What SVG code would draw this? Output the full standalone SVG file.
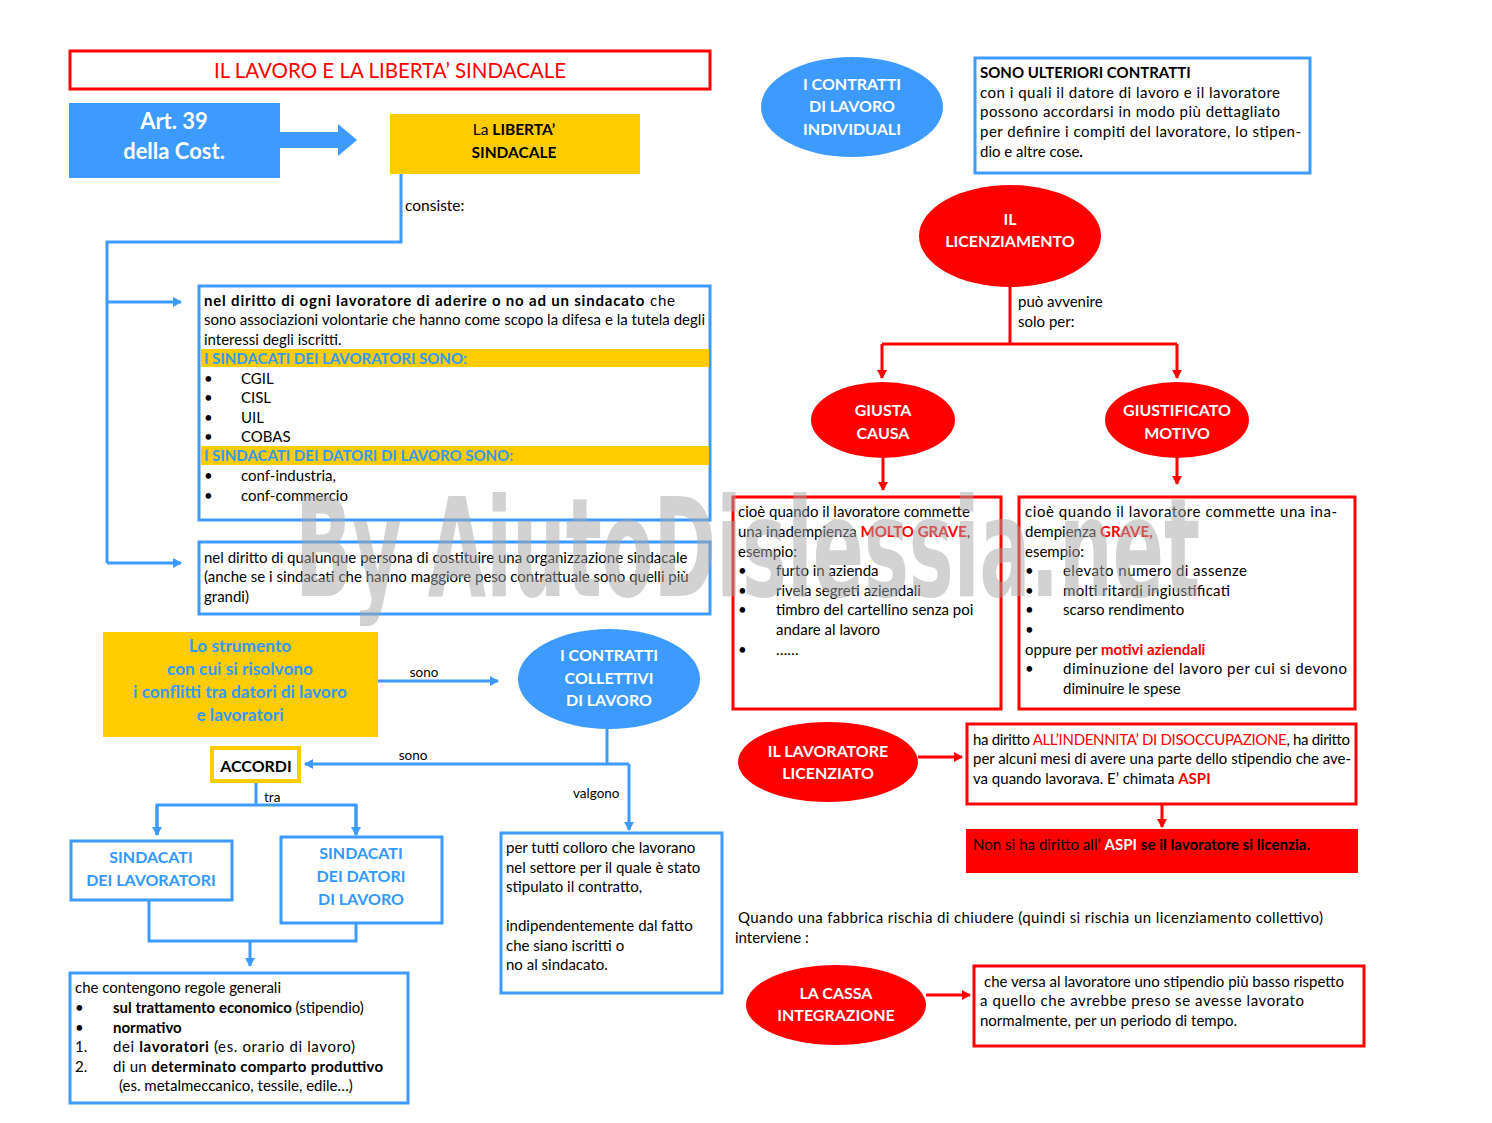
<svg xmlns="http://www.w3.org/2000/svg" width="1492" height="1123" viewBox="0 0 1492 1123">
<style>
text{font-family:Lato,"Liberation Sans",sans-serif;}
.t{font-size:15px;fill:#000;}
.b{font-weight:bold;}
.w{fill:#fff;font-weight:bold;font-size:16px;text-anchor:middle;}
.bl{fill:#3399ff;font-weight:bold;font-size:16px;text-anchor:middle;}
.r{fill:#ff0000;}
.bbox{fill:#fff;stroke:#3d9bff;stroke-width:3;}
.rbox{fill:#fff;stroke:#ff0000;stroke-width:3;}
.bl-line{fill:none;stroke:#3d9bff;stroke-width:3;}
.rd-line{fill:none;stroke:#ff0000;stroke-width:3;}
.bfill{fill:#3d9bff;}
.rfill{fill:#ff0000;}
.yfill{fill:#ffcc00;}
</style>
<defs>
<marker id="ab" markerWidth="10" markerHeight="10" refX="8" refY="5" orient="auto" markerUnits="userSpaceOnUse"><path d="M0,0 L9,5 L0,10 z" fill="#3d9bff"/></marker>
<marker id="ar" markerWidth="10" markerHeight="10" refX="8" refY="5" orient="auto" markerUnits="userSpaceOnUse"><path d="M0,0 L9,5 L0,10 z" fill="#ff0000"/></marker>
</defs>
<rect width="1492" height="1123" fill="#fff"/>

<g id="connectors">
<polygon points="280,132 338,132 338,124 357,140 338,156 338,148 280,148" fill="#3d9bff"/>
<polyline class="bl-line" points="401,174 401,242 107,242 107,563"/>
<line class="bl-line" x1="107" y1="302" x2="181" y2="302" marker-end="url(#ab)"/>
<line class="bl-line" x1="107" y1="563" x2="181" y2="563" marker-end="url(#ab)"/>
<line class="bl-line" x1="367" y1="681" x2="498" y2="681" marker-end="url(#ab)"/>
<polyline class="bl-line" points="607,728 607,764"/>
<line class="bl-line" x1="629" y1="764" x2="305" y2="764" marker-end="url(#ab)"/>
<line class="bl-line" x1="629" y1="764" x2="629" y2="830" marker-end="url(#ab)"/>
<polyline class="bl-line" points="256,781 256,805"/>
<polyline class="bl-line" points="157,835 157,805 356,805 356,835"/>
<line class="bl-line" x1="157" y1="805" x2="157" y2="835" marker-end="url(#ab)"/>
<line class="bl-line" x1="356" y1="805" x2="356" y2="835" marker-end="url(#ab)"/>
<polyline class="bl-line" points="149,900 149,941 356,941 356,923"/>
<line class="bl-line" x1="250" y1="941" x2="250" y2="966" marker-end="url(#ab)"/>
<text class="t" x="405" y="211" style="font-size:15.5px">consiste:</text>
<text class="t" x="424" y="677" text-anchor="middle" style="font-size:13.5px">sono</text>
<text class="t" x="413" y="760" text-anchor="middle" style="font-size:13.5px">sono</text>
<text class="t" x="264" y="802" style="font-size:13.5px">tra</text>
<text class="t" x="573" y="798" style="font-size:13.5px">valgono</text>

<polyline class="rd-line" points="1010,287 1010,344"/>
<polyline class="rd-line" points="882,344 1177,344"/>
<line class="rd-line" x1="882" y1="344" x2="882" y2="378" marker-end="url(#ar)"/>
<line class="rd-line" x1="1177" y1="344" x2="1177" y2="378" marker-end="url(#ar)"/>
<line class="rd-line" x1="883" y1="458" x2="883" y2="490" marker-end="url(#ar)"/>
<line class="rd-line" x1="1177" y1="458" x2="1177" y2="484" marker-end="url(#ar)"/>
<line class="rd-line" x1="918" y1="757" x2="962" y2="757" marker-end="url(#ar)"/>
<line class="rd-line" x1="1162" y1="804" x2="1162" y2="827" marker-end="url(#ar)"/>
<line class="rd-line" x1="926" y1="995" x2="970" y2="995" marker-end="url(#ar)"/>
<text class="t" x="1018" y="307">può avvenire</text>
<text class="t" x="1018" y="327">solo per:</text>
</g>

<g id="title">
<rect x="70" y="51" width="640" height="38" fill="#fff" stroke="#ff0000" stroke-width="3"/>
<text x="390" y="78" text-anchor="middle" style="font-size:20.5px;fill:#ff0000">IL LAVORO E LA LIBERTA’ SINDACALE</text>
</g>

<g id="art39">
<rect x="69" y="103" width="211" height="75" class="bfill"/>
<text class="w" x="174" y="129" style="font-size:22px">Art. 39</text>
<text class="w" x="174" y="159" style="font-size:22px">della Cost.</text>
</g>

<g id="liberta">
<rect x="390" y="114" width="250" height="60" class="yfill"/>
<text class="t" x="514" y="135" text-anchor="middle" style="font-size:15.5px">La <tspan class="b">LIBERTA’</tspan></text>
<text class="t b" x="514" y="158" text-anchor="middle" style="font-size:15.5px">SINDACALE</text>
</g>

<g id="diritto1">
<rect x="199" y="286" width="511" height="234" class="bbox"/>
<rect x="201" y="349" width="508" height="18" class="yfill"/>
<rect x="201" y="446" width="508" height="19" class="yfill"/>
<text class="t" x="204" y="306" textLength="471" lengthAdjust="spacing"><tspan class="b">nel diritto di ogni lavoratore di aderire o no ad un sindacato</tspan>  che</text>
<text class="t" x="204" y="325" textLength="501" lengthAdjust="spacing">sono associazioni volontarie che hanno  come scopo la difesa e la tutela degli</text>
<text class="t" x="204" y="345">interessi degli iscritti.</text>
<text class="t b" x="204" y="364" style="fill:#3399ff">I SINDACATI DEI LAVORATORI SONO:</text>
<text class="t" x="204" y="384">•</text><text class="t" x="241" y="384">CGIL</text>
<text class="t" x="204" y="403">•</text><text class="t" x="241" y="403">CISL</text>
<text class="t" x="204" y="423">•</text><text class="t" x="241" y="423">UIL</text>
<text class="t" x="204" y="442">•</text><text class="t" x="241" y="442">COBAS</text>
<text class="t b" x="204" y="461" style="fill:#3399ff">I SINDACATI DEI DATORI DI LAVORO SONO:</text>
<text class="t" x="204" y="481">•</text><text class="t" x="241" y="481">conf-industria,</text>
<text class="t" x="204" y="501">•</text><text class="t" x="241" y="501">conf-commercio</text>
</g>

<g id="diritto2">
<rect x="199" y="542" width="511" height="72" class="bbox"/>
<text class="t" x="204" y="563">nel diritto di qualunque persona di costituire una organizzazione sindacale</text>
<text class="t" x="204" y="582">(anche se i sindacati che hanno maggiore peso contrattuale sono quelli più</text>
<text class="t" x="204" y="602">grandi)</text>
</g>

<g id="strumento">
<rect x="103" y="632" width="275" height="105" class="yfill"/>
<text class="bl" x="240" y="652" style="font-size:17.3px">Lo strumento</text>
<text class="bl" x="240" y="675" style="font-size:17.3px">con cui si risolvono</text>
<text class="bl" x="240" y="698" style="font-size:17.3px">i conflitti tra datori di lavoro</text>
<text class="bl" x="240" y="721" style="font-size:17.3px">e lavoratori</text>
</g>

<g id="collettivi">
<ellipse cx="609" cy="679" rx="91" ry="50" class="bfill"/>
<text class="w" x="609" y="661">I  CONTRATTI</text>
<text class="w" x="609" y="684">COLLETTIVI</text>
<text class="w" x="609" y="706">DI LAVORO</text>
</g>

<g id="accordi">
<rect x="212" y="748" width="87" height="33" fill="#fff" stroke="#ffcc00" stroke-width="4"/>
<text class="t b" x="256" y="772" text-anchor="middle" style="font-size:16px">ACCORDI</text>
</g>

<g id="sind-lav">
<rect x="71" y="841" width="161" height="59" class="bbox"/>
<text class="bl" x="151" y="863">SINDACATI</text>
<text class="bl" x="151" y="886">DEI LAVORATORI</text>
</g>

<g id="sind-dat">
<rect x="281" y="837" width="161" height="86" class="bbox"/>
<text class="bl" x="361" y="859">SINDACATI</text>
<text class="bl" x="361" y="882">DEI DATORI</text>
<text class="bl" x="361" y="905">DI LAVORO</text>
</g>

<g id="regole">
<rect x="70" y="973" width="338" height="130" class="bbox"/>
<text class="t" x="75" y="993">che contengono regole generali</text>
<text class="t" x="75" y="1013">•</text><text class="t" x="113" y="1013"><tspan class="b">sul trattamento economico</tspan> (stipendio)</text>
<text class="t" x="75" y="1033">•</text><text class="t b" x="113" y="1033">normativo</text>
<text class="t" x="75" y="1052">1.</text><text class="t" x="113" y="1052" textLength="242" lengthAdjust="spacing">dei  <tspan class="b">lavoratori</tspan>  (es.  orario  di  lavoro)</text>
<text class="t" x="75" y="1072">2.</text><text class="t" x="113" y="1072" textLength="270" lengthAdjust="spacing">di  un  <tspan class="b">determinato comparto produttivo</tspan></text>
<text class="t" x="119" y="1091">(es. metalmeccanico, tessile, edile…)</text>
</g>

<g id="valgono-box">
<rect x="501" y="833" width="221" height="160" class="bbox"/>
<text class="t" x="506" y="853">per tutti colloro che lavorano</text>
<text class="t" x="506" y="873">nel settore per il quale è stato</text>
<text class="t" x="506" y="892">stipulato il contratto,</text>
<text class="t" x="506" y="931">indipendentemente dal fatto</text>
<text class="t" x="506" y="951">che siano iscritti o</text>
<text class="t" x="506" y="970">no al sindacato.</text>
</g>

<g id="individuali">
<ellipse cx="852" cy="107" rx="91" ry="50" class="bfill"/>
<text class="w" x="852" y="90">I  CONTRATTI</text>
<text class="w" x="852" y="112">DI LAVORO</text>
<text class="w" x="852" y="135">INDIVIDUALI</text>
</g>

<g id="ulteriori">
<rect x="975" y="58" width="335" height="115" class="bbox"/>
<text class="t b" x="980" y="78">SONO ULTERIORI CONTRATTI</text>
<text class="t" x="980" y="98" textLength="300" lengthAdjust="spacing">con i quali il  datore  di  lavoro  e  il  lavoratore</text>
<text class="t" x="980" y="117" textLength="300" lengthAdjust="spacing">possono  accordarsi  in  modo  più  dettagliato</text>
<text class="t" x="980" y="137" textLength="321" lengthAdjust="spacing">per  definire  i  compiti  del  lavoratore,  lo stipen-</text>
<text class="t" x="980" y="157">dio e altre cose<tspan class="b">.</tspan></text>
</g>

<g id="licenziamento">
<ellipse cx="1010" cy="236" rx="91" ry="51" class="rfill"/>
<text class="w" x="1010" y="225">IL</text>
<text class="w" x="1010" y="247">LICENZIAMENTO</text>
</g>

<g id="giusta">
<ellipse cx="883" cy="420" rx="72" ry="38" class="rfill"/>
<text class="w" x="883" y="416">GIUSTA</text>
<text class="w" x="883" y="439">CAUSA</text>
</g>

<g id="giustificato">
<ellipse cx="1177" cy="420" rx="72" ry="38" class="rfill"/>
<text class="w" x="1177" y="416">GIUSTIFICATO</text>
<text class="w" x="1177" y="439">MOTIVO</text>
</g>

<g id="giusta-box">
<rect x="733" y="497" width="268" height="212" class="rbox"/>
<text class="t" x="738" y="517">cioè quando il lavoratore commette</text>
<text class="t" x="738" y="537">una inadempienza <tspan class="b r">MOLTO GRAVE</tspan>,</text>
<text class="t" x="738" y="557">esempio:</text>
<text class="t" x="738" y="576">•</text><text class="t" x="776" y="576">furto in azienda</text>
<text class="t" x="738" y="596">•</text><text class="t" x="776" y="596">rivela segreti aziendali</text>
<text class="t" x="738" y="615">•</text><text class="t" x="776" y="615">timbro del cartellino senza poi</text>
<text class="t" x="776" y="635">andare al lavoro</text>
<text class="t" x="738" y="655">•</text><text class="t" x="776" y="655">……</text>
</g>

<g id="giustificato-box">
<rect x="1019" y="497" width="336" height="212" class="rbox"/>
<text class="t" x="1025" y="517" textLength="312" lengthAdjust="spacing">cioè  quando  il  lavoratore  commette  una  ina-</text>
<text class="t" x="1025" y="537">dempienza <tspan class="b r">GRAVE,</tspan></text>
<text class="t" x="1025" y="557">esempio:</text>
<text class="t" x="1025" y="576">•</text><text class="t" x="1063" y="576" textLength="184" lengthAdjust="spacing">elevato  numero  di  assenze</text>
<text class="t" x="1025" y="596">•</text><text class="t" x="1063" y="596" textLength="167" lengthAdjust="spacing">molti  ritardi  ingiustificati</text>
<text class="t" x="1025" y="615">•</text><text class="t" x="1063" y="615">scarso  rendimento</text>
<text class="t" x="1025" y="635">•</text>
<text class="t" x="1025" y="655">oppure  per  <tspan class="b r">motivi  aziendali</tspan></text>
<text class="t" x="1025" y="674">•</text><text class="t" x="1063" y="674" textLength="284" lengthAdjust="spacing">diminuzione  del  lavoro  per  cui  si  devono</text>
<text class="t" x="1063" y="694">diminuire le spese</text>
</g>

<g id="licenziato">
<ellipse cx="828" cy="762" rx="90" ry="40" class="rfill"/>
<text class="w" x="828" y="757">IL LAVORATORE</text>
<text class="w" x="828" y="779">LICENZIATO</text>
</g>

<g id="indennita">
<rect x="967" y="724" width="389" height="80" class="rbox"/>
<text class="t" x="973" y="745" textLength="377" lengthAdjust="spacing">ha diritto  <tspan class="r">ALL’INDENNITA’ DI DISOCCUPAZIONE</tspan>, ha diritto</text>
<text class="t" x="973" y="764" textLength="378" lengthAdjust="spacing">per alcuni mesi di avere una parte dello stipendio che ave-</text>
<text class="t" x="973" y="784">va quando lavorava. E’ chimata <tspan class="b r">ASPI</tspan></text>
</g>

<g id="non-aspi">
<rect x="966" y="829" width="392" height="44" class="rfill"/>
<text class="t" x="973" y="850" textLength="337" lengthAdjust="spacing">Non  si ha diritto all’ <tspan class="b" fill="#fff">ASPI</tspan> <tspan class="b">se il lavoratore si licenzia.</tspan></text>
</g>

<g id="quando">
<text class="t" x="738" y="923" textLength="585" lengthAdjust="spacing">Quando  una  fabbrica  rischia  di  chiudere  (quindi  si rischia un licenziamento collettivo)</text>
<text class="t" x="735" y="943">interviene :</text>
</g>

<g id="cassa">
<ellipse cx="836" cy="1005" rx="90" ry="40" class="rfill"/>
<text class="w" x="836" y="999">LA CASSA</text>
<text class="w" x="836" y="1021">INTEGRAZIONE</text>
</g>

<g id="cassa-box">
<rect x="974" y="966" width="390" height="80" class="rbox"/>
<text class="t" x="984" y="987" textLength="360" lengthAdjust="spacing">che versa al lavoratore uno stipendio più basso rispetto</text>
<text class="t" x="980" y="1006" textLength="324" lengthAdjust="spacing">a  quello  che  avrebbe  preso  se  avesse  lavorato</text>
<text class="t" x="980" y="1026">normalmente, per un periodo di tempo.</text>
</g>

<g id="watermark" opacity="0.5">
<text x="295" y="596" textLength="905" lengthAdjust="spacingAndGlyphs" style="font-family:'DejaVu Sans Condensed','Liberation Sans',sans-serif;font-weight:bold;font-size:138px;fill:#a6a6a6">By AiutoDislessia.net</text>
</g>
</svg>
